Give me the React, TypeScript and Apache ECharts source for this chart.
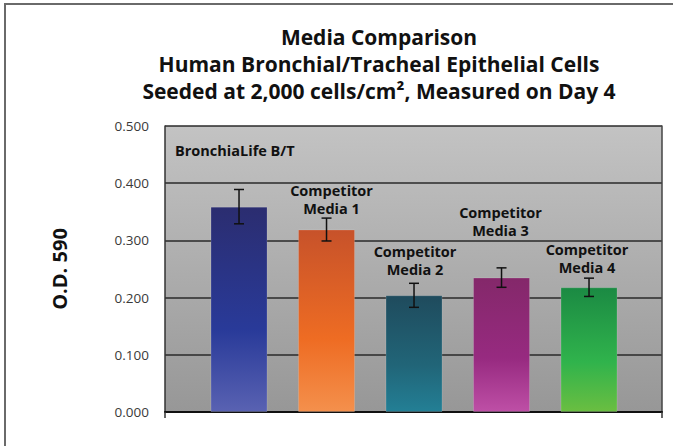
import React, { useEffect, useRef } from "react";
import * as echarts from "echarts";

const titleLines = [
  "Media Comparison",
  "Human Bronchial/Tracheal Epithelial Cells",
  "Seeded at 2,000 cells/cm², Measured on Day 4",
];
const categories = [
  "BronchiaLife B/T",
  "Competitor\nMedia 1",
  "Competitor\nMedia 2",
  "Competitor\nMedia 3",
  "Competitor\nMedia 4",
];
const values = [0.359, 0.319, 0.204, 0.235, 0.218];
const errors = [0.03, 0.02, 0.021, 0.017, 0.016];
const yTicks = [0, 0.1, 0.2, 0.3, 0.4, 0.5];
const yAxisTitle = "O.D. 590";
const xMin = 0.154;
const xMax = 5.834;

// gradient stops per bar: top, middle, bottom
const barColors = [
  ["#2b2d70", "#293a99", "#5962b2"],
  ["#c7522a", "#ee6c23", "#f4904c"],
  ["#1f4b5d", "#216578", "#237f95"],
  ["#84286a", "#972a80", "#be4fa6"],
  ["#1b8a43", "#30b34c", "#6abe41"],
];
// label layout (px, relative to error-bar top and bar centre)
const labelLayout = [
  { dx: -64, dy: -39, align: "left", vAlign: "middle" },
  { dx: 5, dy: -1, align: "center", vAlign: "bottom" },
  { dx: 1, dy: -5, align: "center", vAlign: "bottom" },
  { dx: -1, dy: -28, align: "center", vAlign: "bottom" },
  { dx: -2, dy: -2, align: "center", vAlign: "bottom" },
];

const FONT = "Open Sans";

export default function App() {
  const ref = useRef<HTMLDivElement>(null);
  useEffect(() => {
    document.body.style.margin = "0";
    if (!ref.current) return;
    const chart = echarts.init(ref.current, null, { renderer: "svg" });
    const xs = values.map((_, i) => i + 1);
    chart.setOption({
      animation: false,
      backgroundColor: "#ffffff",
      textStyle: { fontFamily: FONT },
      graphic: [
        {
          type: "rect",
          shape: { x: 5, y: 4, width: 720, height: 520 },
          style: { fill: "none", stroke: "#6a6a6a", lineWidth: 2 },
          silent: true,
          z: 100,
        },
      ],
      title: {
        text: titleLines.join("\n"),
        left: 374,
        top: 18,
        textAlign: "center",
        textStyle: {
          fontFamily: FONT,
          fontSize: 21,
          fontWeight: "bold",
          lineHeight: 27,
          color: "#111",
        },
      },
      grid: {
        left: 165,
        top: 126,
        width: 497,
        height: 286,
        show: true,
        borderWidth: 0,
        backgroundColor: new echarts.graphic.LinearGradient(0, 0, 0, 1, [
          { offset: 0, color: "#c3c3c3" },
          { offset: 1, color: "#979797" },
        ]),
      },
      xAxis: {
        type: "value",
        min: xMin,
        max: xMax,
        axisLine: { show: true, onZero: false, lineStyle: { color: "#111", width: 2 } },
        axisTick: {
          show: true,
          length: 6,
          customValues: [xMin, xMax],
          lineStyle: { color: "#333", width: 1.5 },
        },
        axisLabel: { show: false },
        splitLine: { show: false },
      },
      yAxis: [
        {
          type: "value",
          min: 0,
          max: 0.5,
          interval: 0.1,
          name: yAxisTitle,
          nameLocation: "middle",
          nameRotate: 90,
          nameGap: 96,
          nameTextStyle: { fontFamily: FONT, fontSize: 20, fontWeight: "bold", color: "#111" },
          axisLine: { show: true, lineStyle: { color: "#333", width: 1.5 } },
          axisTick: { show: false },
          axisLabel: {
            margin: 16,
            fontSize: 13.5,
            color: "#3a3a3a",
            fontFamily: FONT,
            formatter: (v: number) => v.toFixed(3),
            customValues: yTicks,
          },
          splitLine: { show: true, lineStyle: { color: "#2a2a2a", width: 1.5 } },
        },
        {
          type: "value",
          min: 0,
          max: 0.5,
          interval: 0.1,
          position: "right",
          axisLine: { show: true, lineStyle: { color: "#444", width: 1.5 } },
          axisTick: { show: false },
          axisLabel: { show: false },
          splitLine: { show: false },
        },
      ],
      series: [
        {
          type: "bar",
          barWidth: 57,
          data: values.map((v, i) => ({
            value: [xs[i], v],
            itemStyle: {
              color: new echarts.graphic.LinearGradient(0, 0, 0, 1, [
                { offset: 0, color: barColors[i][0] },
                { offset: 0.6, color: barColors[i][1] },
                { offset: 1, color: barColors[i][2] },
              ]),
              borderColor: "rgba(255,255,255,0.15)",
              borderWidth: 1,
            },
          })),
          z: 2,
        },
        {
          type: "custom",
          z: 5,
          data: values.map((v, i) => [xs[i], v - errors[i], v + errors[i], i]),
          renderItem: (params: any, api: any) => {
            const x = api.value(0);
            const lo = api.coord([x, api.value(1)]);
            const hi = api.coord([x, api.value(2)]);
            const idx = api.value(3);
            const cap = 5;
            const lay = labelLayout[idx];
            const stroke = { stroke: "#111", lineWidth: 1.5 };
            return {
              type: "group",
              children: [
                { type: "line", shape: { x1: lo[0], y1: lo[1], x2: hi[0], y2: hi[1] }, style: stroke },
                { type: "line", shape: { x1: lo[0] - cap, y1: lo[1], x2: lo[0] + cap, y2: lo[1] }, style: stroke },
                { type: "line", shape: { x1: hi[0] - cap, y1: hi[1], x2: hi[0] + cap, y2: hi[1] }, style: stroke },
                {
                  type: "text",
                  x: hi[0] + lay.dx,
                  y: hi[1] + lay.dy,
                  style: {
                    text: categories[idx],
                    fontFamily: FONT,
                    fontSize: 14.5,
                    fontWeight: "bold",
                    lineHeight: 18,
                    fill: "#111",
                    align: lay.align,
                    verticalAlign: lay.vAlign,
                  },
                },
              ],
            };
          },
        },
      ],
    });
    return () => chart.dispose();
  }, []);
  return <div ref={ref} style={{ width: 673, height: 446 }} />;
}
